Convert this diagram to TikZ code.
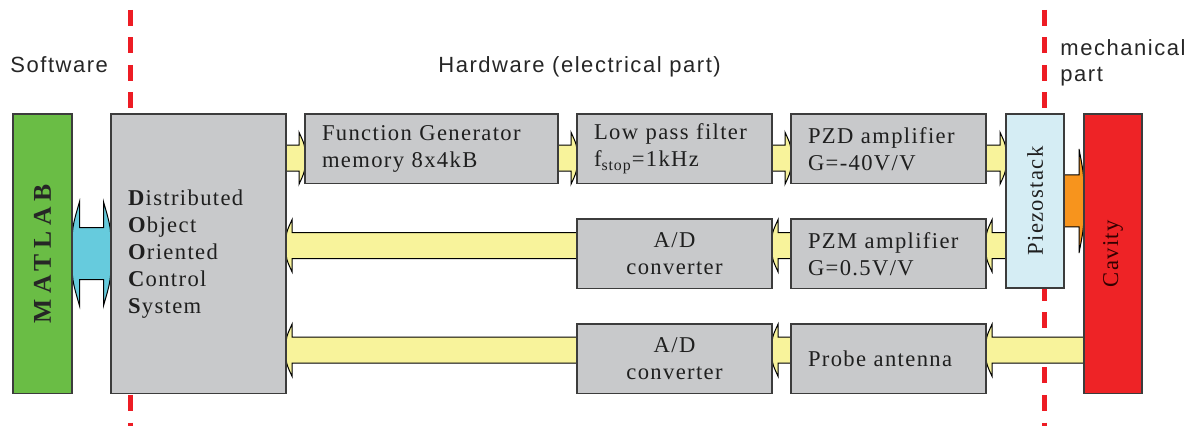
\documentclass[tikz,border=0pt]{standalone}
\usepackage{fontspec}
\setmainfont{Liberation Serif}[LetterSpace=6]
\newfontfamily\headfont{Liberation Sans}[LetterSpace=7]
\newfontfamily\matfont{Liberation Serif}[LetterSpace=22]
\usetikzlibrary{positioning, calc, backgrounds}
\definecolor{boxgray}{HTML}{C8C9CB}
\definecolor{edgegray}{HTML}{3C3C3C}
\definecolor{matgreen}{HTML}{6ABD45}
\definecolor{piezoblue}{HTML}{D5EDF4}
\definecolor{cavred}{HTML}{EE2326}
\definecolor{sigyellow}{HTML}{F8F39B}
\definecolor{buscyan}{HTML}{66CBDD}
\definecolor{pushorange}{HTML}{F7941D}
\definecolor{sepred}{HTML}{ED1C24}
\tikzset{
  txt/.style={font=\fontsize{11.3}{13.5}\selectfont, text=black!88},
  block/.style={rectangle, draw=edgegray, line width=0.7pt, fill=boxgray, outer sep=0pt,
    minimum height=34.75pt, inner xsep=8.5pt, inner ysep=0pt, align=left, txt},
  wideblock/.style={block, text width=109.5pt},
  narrowblock/.style={block, text width=80.5pt},
  adblock/.style={block, text width=80.5pt, align=center},
  tallbox/.style={rectangle, draw=edgegray, line width=0.7pt, inner sep=0pt, outer sep=0pt,
    minimum width=29.5pt, minimum height=139.75pt},
  head/.style={font=\headfont\fontsize{11}{13}\selectfont, text=black!85, inner sep=0pt},
  sepline/.style={draw=sepred, line width=2.5pt, dash pattern=on 8pt off 5.75pt},
  fat/.style n args={3}{to path={
    let \p1=(\tikztostart), \p2=(\tikztotarget),
        \n1={ifthenelse(\x2>\x1,-#3,#3)} in
    (\x1,\y1+#1) -- (\x2+\n1,\y1+#1) -- (\x2+\n1,\y1+#2)
    .. controls (\x2,\y1+0.5*#2) .. (\x2,\y1)
    .. controls (\x2,\y1-0.5*#2) .. (\x2+\n1,\y1-#2)
    -- (\x2+\n1,\y1-#1) -- (\x1,\y1-#1) -- cycle}},
  fatboth/.style n args={3}{to path={
    let \p1=(\tikztostart), \p2=(\tikztotarget) in
    (\x1,\y1) .. controls (\x1,\y1+0.5*#2) .. (\x1+#3,\y1+#2)
    -- (\x1+#3,\y1+#1) -- (\x2-#3,\y1+#1) -- (\x2-#3,\y1+#2)
    .. controls (\x2,\y1+0.5*#2) .. (\x2,\y1)
    .. controls (\x2,\y1-0.5*#2) .. (\x2-#3,\y1-#2)
    -- (\x2-#3,\y1-#1) -- (\x1+#3,\y1-#1) -- (\x1+#3,\y1-#2)
    .. controls (\x1,\y1-0.5*#2) .. (\x1,\y1) -- cycle}},
  yarr/.style={draw=black, line width=0.5pt, fill=sigyellow, fat={6.5pt}{13pt}{3pt}},
  oarr/.style={draw=black, line width=0.5pt, fill=pushorange, fat={13pt}{26pt}{2.5pt}},
  carr/.style={draw=black, line width=0.5pt, fill=buscyan, fatboth={13pt}{26pt}{3.75pt}},
}

\begin{document}
\begin{tikzpicture}[x=0.5pt, y=-0.5pt]
  \useasboundingbox (0,0) rectangle (1197,426);

  % software / hardware
  \node[tallbox, fill=matgreen,
    label={[rotate=90, font=\matfont\fontsize{12.8}{14}\selectfont\bfseries, text=black!85]center:MATLAB}]
    (matlab) at (42.5,253.75) {};
  \node[tallbox, fill=boxgray, minimum width=87.5pt, right=19.5pt of matlab,
    txt, align=left, text width=70.5pt, inner xsep=8.5pt] (dooc)
    {\textbf{D}istributed\\\textbf{O}bject\\\textbf{O}riented\\\textbf{C}ontrol\\\textbf{S}ystem};

  \node[wideblock, below right=0pt and 9.5pt of dooc.north east] (fg) {Function Generator\\memory 8x4kB};
  \node[narrowblock, right=9.5pt of fg] (lpf) {Low pass filter\\f\textsubscript{stop}=1kHz};
  \node[narrowblock, right=9.5pt of lpf] (pzd) {PZD amplifier\\G=-40V/V};
  \node[adblock, below=17.75pt of lpf] (ad1) {A/D\\converter};
  \node[narrowblock, below=17.75pt of pzd] (pzm) {PZM amplifier\\G=0.5V/V};
  \node[adblock, below=17.75pt of ad1] (ad2) {A/D\\converter};
  \node[narrowblock, below=17.75pt of pzm] (probe) {Probe antenna};

  % mechanical part
  \node[tallbox, fill=piezoblue, minimum width=29pt, minimum height=87pt,
    below right=0pt and 10pt of pzd.north east,
    label={[rotate=90, txt]center:Piezostack}] (piezo) {};
  \node[tallbox, fill=cavred, minimum width=29pt,
    below right=0pt and 10pt of piezo.north east,
    label={[rotate=90, txt, text=black!80!red]center:Cavity}] (cavity) {};

  \node[head, anchor=base west] (sw) at (10,73) {Software};
  \node[head, anchor=base west] (hw) at (438,73) {Hardware (electrical part)};
  \node[head, anchor=north west, align=left] (mech) at (1060,39) {mechanical\\part};

  \begin{scope}[on background layer]
    \draw[sepline] (130,10) -- (130,426);
    \draw[sepline] (1044,10) -- (1044,426);

    \draw[carr] (matlab.east) to (dooc.west);
    % drive chain
    \draw[yarr] ($(dooc.east |- fg.west)+(0,9.5)$) to ($(fg.west)+(0,9.5)$);
    \draw[yarr] ($(fg.east)+(0,9.5)$) to ($(lpf.west)+(0,9.5)$);
    \draw[yarr] ($(lpf.east)+(0,9.5)$) to ($(pzd.west)+(0,9.5)$);
    \draw[yarr] ($(pzd.east)+(0,9.5)$) to ($(piezo.west |- pzd.east)+(0,9.5)$);
    \draw[oarr] (piezo.east) to (cavity.west |- piezo.east);
    % piezo sensor
    \draw[yarr] ($(piezo.west |- pzm.east)+(0,-8)$) to ($(pzm.east)+(0,-8)$);
    \draw[yarr] ($(pzm.west)+(0,-8)$) to ($(ad1.east)+(0,-8)$);
    \draw[yarr] ($(ad1.west)+(0,-8)$) to ($(dooc.east |- ad1.west)+(0,-8)$);
    % cavity probe
    \draw[yarr] ($(cavity.west |- probe.east)+(0,-8.5)$) to ($(probe.east)+(0,-8.5)$);
    \draw[yarr] ($(probe.west)+(0,-8.5)$) to ($(ad2.east)+(0,-8.5)$);
    \draw[yarr] ($(ad2.west)+(0,-8.5)$) to ($(dooc.east |- ad2.west)+(0,-8.5)$);
  \end{scope}
\end{tikzpicture}
\end{document}
